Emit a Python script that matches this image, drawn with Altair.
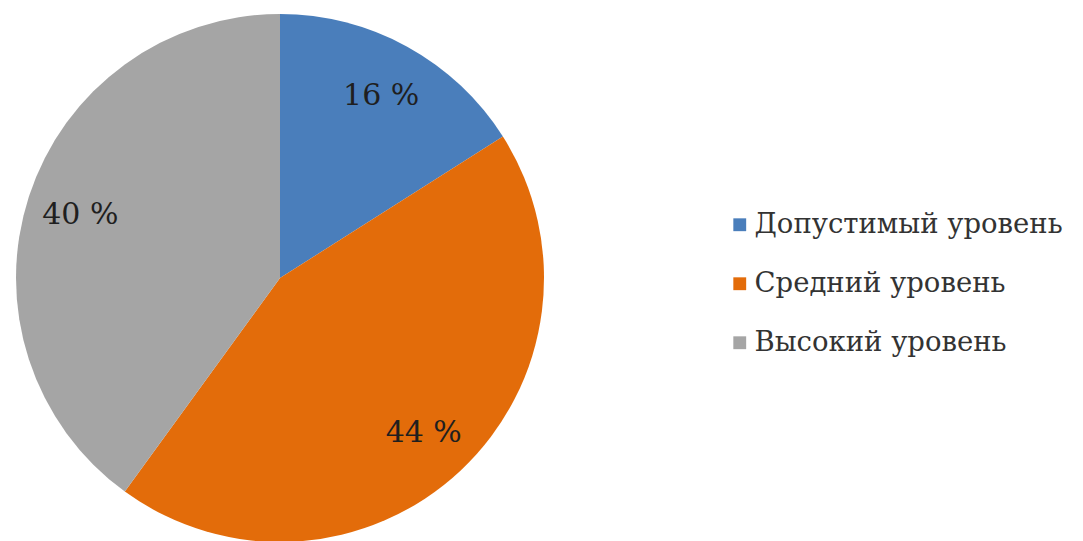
import altair as alt
import pandas as pd

categories = ["Допустимый уровень", "Средний уровень", "Высокий уровень"]
values = [16, 44, 40]
labels = ["16 %", "44 %", "40 %"]
order = [0, 1, 2]
colors = ["#4A7EBB", "#E36C0A", "#A5A5A5"]

FONT = "DejaVu Serif"

df = pd.DataFrame({"cat": categories, "val": values, "lab": labels, "ord": order})

base = alt.Chart(df).encode(
    theta=alt.Theta("val:Q", stack=True),
    order=alt.Order("ord:Q"),
)

color = alt.Color(
    "cat:N",
    scale=alt.Scale(domain=categories, range=colors),
    sort=categories,
    legend=alt.Legend(
        title=None,
        orient="none",
        legendX=718,
        legendY=203,
        padding=0,
        symbolType="square",
        symbolSize=165,
        symbolStrokeWidth=0,
        labelFont=FONT,
        labelFontSize=27.5,
        labelColor="#333333",
        labelLimit=500,
        labelOffset=1,
        rowPadding=30,
    ),
)

pie = base.mark_arc(outerRadius=264, strokeWidth=0).encode(
    color=color,
    x=alt.value(272),
    y=alt.value(270),
)

text = base.mark_text(
    radius=210, font=FONT, fontSize=30, color="#1f1f1f"
).encode(
    text="lab:N",
    x=alt.value(272),
    y=alt.value(272),
)

chart = (pie + text).properties(
    width=1067, height=533, padding=0,
    autosize=alt.AutoSizeParams(type="none"),
).configure_view(stroke=None)

chart.save("out.html", embed_options={"renderer": "svg", "actions": False})
